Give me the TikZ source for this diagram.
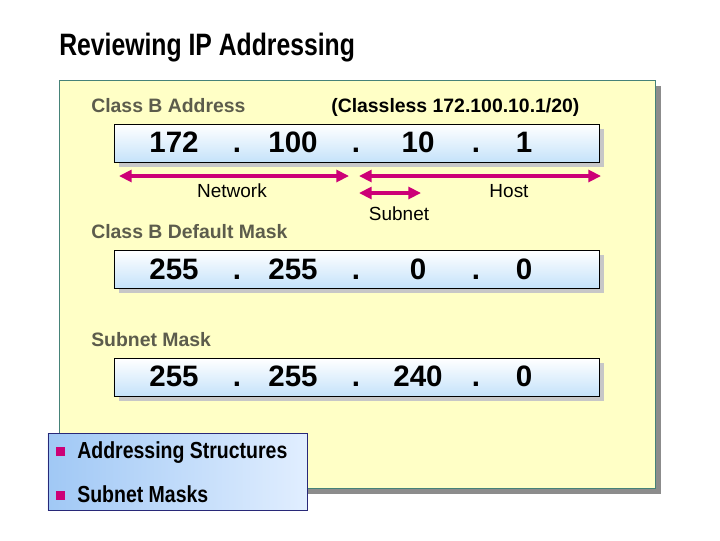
\documentclass[tikz,border=0pt]{standalone}
\usepackage{fontspec}
\setmainfont{Liberation Sans}
\usetikzlibrary{positioning,arrows.meta,shadows}
\definecolor{panelyellow}{RGB}{255,255,198}
\definecolor{panelline}{RGB}{70,130,120}
\definecolor{boxblue}{RGB}{196,226,250}
\definecolor{labelgray}{RGB}{92,92,76}
\definecolor{spanpink}{RGB}{204,0,119}
\definecolor{topicdark}{RGB}{40,40,120}
\definecolor{topicleft}{RGB}{160,200,245}
\definecolor{topicright}{RGB}{225,238,255}
\newcommand{\narrowtext}[2]{\scalebox{#1}[1]{#2}}
\tikzset{
  addrbox/.style={draw=black,line width=0.5pt,top color=white,bottom color=boxblue,
    minimum width=12.125cm,minimum height=0.95cm,inner sep=0pt,
    drop shadow={shadow xshift=3.5pt,shadow yshift=-3.5pt,fill=black!22,opacity=1}},
  octet/.style={anchor=base,inner sep=0pt,font=\fontsize{21}{25}\selectfont\bfseries},
  caption/.style={anchor=base west,inner sep=0pt,text=labelgray,font=\fontsize{13.8}{16}\selectfont\bfseries},
  partlabel/.style={anchor=base,inner sep=0pt,font=\fontsize{13.5}{16}\selectfont},
  span arrow/.style={spanpink,line width=2.2pt,{Triangle[length=9pt,width=8.5pt]}-{Triangle[length=9pt,width=8.5pt]}},
  bullet/.style={fill=spanpink,minimum size=6.4pt,inner sep=0pt},
  topic/.style={anchor=base west,inner sep=0pt,font=\fontsize{16.5}{19}\selectfont\bfseries}
}
\begin{document}
\begin{tikzpicture}[x=0.025cm,y=-0.025cm]
\useasboundingbox[fill=white] (0,0) rectangle (720,540);
% title
\node[anchor=base west,inner sep=0pt,font=\fontsize{22}{26}\selectfont\bfseries] (title) at (59,55)
  {\narrowtext{0.8}{Reviewing IP Addressing}};
% yellow panel
\node[draw=panelline,fill=panelyellow,line width=0.6pt,minimum width=14.9cm,minimum height=10.2cm,
  drop shadow={shadow xshift=4.3pt,shadow yshift=-4.3pt,fill=black!45,opacity=1}] (panel) at (357,284) {};

% address
\node[caption] (classb) at (91,112) {Class B Address};
\node[caption,text=black] (classless) at (331,112) {(Classless 172.100.10.1/20)};
\node[addrbox] (addr) at (356.5,143.5) {};
\node[octet] (a1) at (174,152) {172};
\node[octet] (d1) at (237,152) {.};
\node[octet] (a2) at (293,152) {100};
\node[octet] (d2) at (356,152) {.};
\node[octet] (a3) at (418,152) {10};
\node[octet] (d3) at (476,152) {.};
\node[octet] (a4) at (524,152) {1};

% network / host / subnet
\coordinate (netL) at (119,176);
\coordinate (netR) at (349,176);
\coordinate (hostL) at (359,176);
\coordinate (hostR) at (601,176);
\coordinate (subL) at (359,193);
\coordinate (subR) at (421,193);
\draw[span arrow] (netL) -- (netR);
\draw[span arrow] (hostL) -- (hostR);
\draw[span arrow] (subL) -- (subR);
\node[partlabel] (network) at (232,197) {Network};
\node[partlabel] (host) at (509,197) {Host};
\node[partlabel] (subnet) at (399,220) {Subnet};

% default mask
\node[caption] (defmask) at (91,238) {Class B Default Mask};
\node[addrbox] (mask) at (356.5,269.5) {};
\node[octet] (m1) at (174,279) {255};
\node[octet] (e1) at (237,279) {.};
\node[octet] (m2) at (293,279) {255};
\node[octet] (e2) at (356,279) {.};
\node[octet] (m3) at (418,279) {0};
\node[octet] (e3) at (476,279) {.};
\node[octet] (m4) at (524,279) {0};

% subnet mask
\node[caption] (submask) at (91,346) {Subnet Mask};
\node[addrbox] (smask) at (356.5,377.5) {};
\node[octet] (s1) at (174,386) {255};
\node[octet] (f1) at (237,386) {.};
\node[octet] (s2) at (293,386) {255};
\node[octet] (f2) at (356,386) {.};
\node[octet] (s3) at (418,386) {240};
\node[octet] (f3) at (476,386) {.};
\node[octet] (s4) at (524,386) {0};

% topics
\node[draw=topicdark,line width=0.6pt,left color=topicleft,right color=topicright,
  minimum width=6.475cm,minimum height=1.925cm,inner sep=0pt] (topics) at (177.5,471.5) {};
\node[bullet] (b1) at (60.5,451) {};
\node[topic] (t1) at (77,458) {\narrowtext{0.84}{Addressing Structures}};
\node[bullet] (b2) at (60.5,495) {};
\node[topic] (t2) at (77,502) {\narrowtext{0.84}{Subnet Masks}};
\end{tikzpicture}
\end{document}
